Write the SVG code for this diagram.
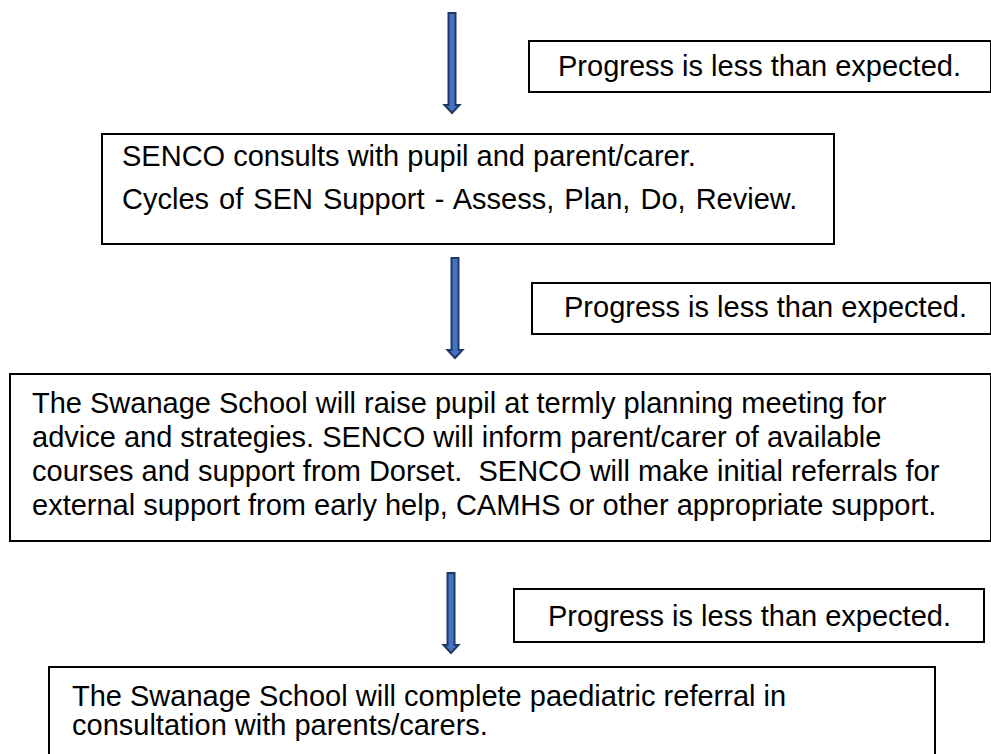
<svg xmlns="http://www.w3.org/2000/svg" width="991" height="754" viewBox="0 0 991 754">
<style>
.box{fill:#fff;stroke:#000;stroke-width:2}
.t{font-family:"Liberation Sans",Arial,sans-serif;font-size:29px;fill:#000;white-space:pre}
.arr{fill:#4472C4;stroke:#1F3864;stroke-width:2;stroke-linejoin:miter}
</style>
<rect width="991" height="754" fill="#fff"/>
<g id="connectors">
<path class="arr" d="M448.5,13 H455.5 V105 H459.5 L452,113 L444.5,105 H448.5 Z"/>
<path class="arr" d="M451.5,258 H458.5 V350 H462.5 L455,358 L447.5,350 H451.5 Z"/>
<path class="arr" d="M447.5,573 H454.5 V645 H458.5 L451,653 L443.5,645 H447.5 Z"/>
</g>
<g id="p1"><rect class="box" x="529" y="41" width="462" height="51"/><text class="t" x="558" y="76">Progress is less than expected.</text></g>
<g id="n1"><rect class="box" x="102" y="134" width="732" height="110"/>
<text class="t" x="122" y="166">SENCO consults with pupil and parent/carer.</text>
<text class="t" x="122" y="209" word-spacing="2">Cycles of SEN Support - Assess, Plan, Do, Review.</text></g>
<g id="p2"><rect class="box" x="532" y="283" width="459" height="51"/><text class="t" x="564" y="317">Progress is less than expected.</text></g>
<g id="n2"><rect class="box" x="10" y="374" width="981" height="167"/>
<text class="t" x="32" y="413">The Swanage School will raise pupil at termly planning meeting for</text>
<text class="t" x="32" y="447">advice and strategies. SENCO will inform parent/carer of available</text>
<text class="t" x="32" y="481">courses and support from Dorset.  SENCO will make initial referrals for</text>
<text class="t" x="32" y="515">external support from early help, CAMHS or other appropriate support.</text></g>
<g id="p3"><rect class="box" x="514" y="589" width="470" height="53"/><text class="t" x="548" y="626">Progress is less than expected.</text></g>
<g id="n3"><rect class="box" x="49" y="667" width="886" height="100"/>
<text class="t" x="72" y="706">The Swanage School will complete paediatric referral in</text>
<text class="t" x="72" y="735">consultation with parents/carers.</text></g>
</svg>
